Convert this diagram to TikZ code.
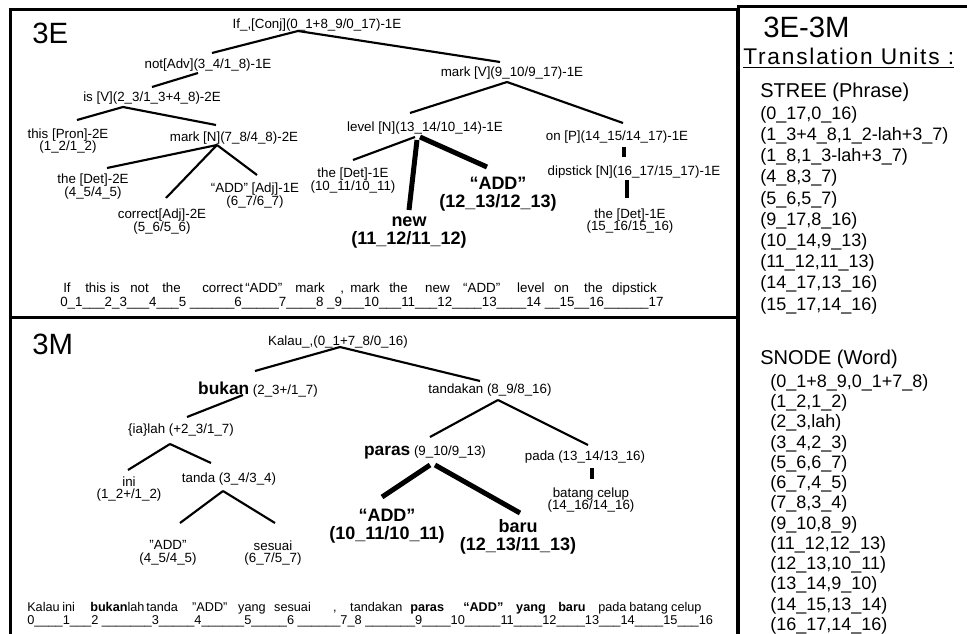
\documentclass[tikz,border=0pt]{standalone}
\usepackage{fontspec}
\setmainfont{Liberation Sans}
\newfontfamily\widefont[LetterSpace=8]{Liberation Sans}
\newdimen\pxu \pxu=0.75pt
\newcommand{\wbox}[2]{\makebox[#1\pxu][l]{#2}}

\tikzstyle{lbl} = [font=\fontsize{10}{9.5}\selectfont, align=center, inner sep=0pt]
\tikzstyle{blbl} = [font=\fontsize{13.5}{13.5}\selectfont\bfseries, align=center, inner sep=0pt]
\tikzstyle{biglbl} = [font=\fontsize{22}{22}\selectfont, inner sep=0pt, anchor=base west]
\tikzstyle{headlbl} = [font=\fontsize{15}{15}\selectfont, inner sep=0pt, anchor=base west]
\tikzstyle{sent} = [font=\fontsize{10}{10}\selectfont, inner sep=0pt, anchor=base west]
\tikzstyle{numline} = [font=\fontsize{10}{10}\selectfont, inner sep=0pt, anchor=base west]
\tikzstyle{unitlist} = [font=\fontsize{13.5}{15.9}\selectfont, align=left, inner sep=0pt, anchor=north west]
\tikzstyle{link} = [line width=1.6pt]
\tikzstyle{boldlink} = [line width=3.75pt]
\tikzstyle{stub} = [line width=2.4pt]
\tikzstyle{frame} = [line width=2.25pt]

\begin{document}
\begin{tikzpicture}[x=0.75pt, y=-0.75pt]
  \useasboundingbox (0,0) rectangle (967,634);
  \clip (0,0) rectangle (967,634);
  % frames
  \draw [frame] (10,10) rectangle (737,318);
  \draw [frame] (10,318) rectangle (737,645);
  \draw [frame] (738,7) rectangle (980,645);
  % 3E tree
  \node (t3e) [biglbl] at (32,44) {3E};
  \node (ifc) [lbl] at (317,25) {If\_,[Conj](0\_1+8\_9/0\_17)-1E};
  \node (notadv) [lbl] at (208,65) {not[Adv](3\_4/1\_8)-1E};
  \node (isv) [lbl] at (152,98) {is [V](2\_3/1\_3+4\_8)-2E};
  \node (thisp) [lbl] at (68,141) {this [Pron]-2E\\(1\_2/1\_2)};
  \node (markn) [lbl] at (234,138) {mark [N](7\_8/4\_8)-2E};
  \node (thed) [lbl] at (93,186.5) {the [Det]-2E\\(4\_5/4\_5)};
  \node (corr) [lbl] at (162,221.5) {correct[Adj]-2E\\(5\_6/5\_6)};
  \node (addadj) [lbl] at (255,195.5) {“ADD” [Adj]-1E\\(6\_7/6\_7)};
  \node (markv) [lbl] at (512,73) {mark [V](9\_10/9\_17)-1E};
  \node (levn) [lbl] at (425,128) {level [N](13\_14/10\_14)-1E};
  \node (onp) [lbl] at (617,137) {on [P](14\_15/14\_17)-1E};
  \node (thed2) [lbl] at (353,180.5) {the [Det]-1E\\(10\_11/10\_11)};
  \node (addb) [blbl] at (498,194) {“ADD”\\(12\_13/12\_13)};
  \node (newb) [blbl] at (409,232.5) {new\\(11\_12/11\_12)};
  \node (dipn) [lbl] at (634,172) {dipstick [N](16\_17/15\_17)-1E};
  \node (thed3) [lbl] at (630,221) {the [Det]-1E\\(15\_16/15\_16)};
  \node (sente) [sent] at (63,292.5) {\wbox{22}{If}\wbox{25}{this}\wbox{20}{is}\wbox{32}{not}\wbox{40}{the}\wbox{43}{correct}\wbox{50}{“ADD”}\wbox{45}{mark}\wbox{10}{,}\wbox{39}{mark}\wbox{36}{the}\wbox{38}{new}\wbox{54}{“ADD”}\wbox{37}{level}\wbox{30}{on}\wbox{28}{the}dipstick};
  \node (nume) [numline] at (60,306.5) {0\_1\_\_\_2\_3\_\_\_4\_\_\_5 \_\_\_\_\_\_6\_\_\_\_\_7\_\_\_\_8 \_9\_\_\_10\_\_\_11\_\_\_12\_\_\_\_13\_\_\_\_14 \_\_15\_\_16\_\_\_\_\_\_17};
  % 3M tree
  \node (t3m) [biglbl] at (32,355) {3M};
  \node (kal) [lbl] at (338,342) {Kalau\_,(0\_1+7\_8/0\_16)};
  \node (buk) [lbl] at (258,390) {{\fontsize{13}{13}\selectfont\bfseries bukan} (2\_3+/1\_7)};
  \node (lah) [lbl] at (181,430) {\{ia\}lah (+2\_3/1\_7)};
  \node (ini) [lbl] at (129,489) {ini\\(1\_2+/1\_2)};
  \node (tanda) [lbl] at (229,479) {tanda (3\_4/3\_4)};
  \node (addq) [lbl] at (168,552.5) {"ADD"\\(4\_5/4\_5)};
  \node (sesuai) [lbl] at (273,553) {sesuai\\(6\_7/5\_7)};
  \node (tandak) [lbl] at (490,390) {tandakan (8\_9/8\_16)};
  \node (paras) [lbl] at (425,452) {{\fontsize{13}{13}\selectfont\bfseries paras} (9\_10/9\_13)};
  \node (pada) [lbl] at (585,457) {pada (13\_14/13\_16)};
  \node (batang) [lbl] at (591,500) {batang celup\\(14\_16/14\_16)};
  \node (addm) [blbl] at (387,526.5) {“ADD”\\(10\_11/10\_11)};
  \node (baru) [blbl] at (518,537) {baru\\(12\_13/11\_13)};
  \node (sentm) [sent, font=\fontsize{9.5}{10}\selectfont] at (27,611.5) {\wbox{35}{Kalau}\wbox{28}{ini}\wbox{56}{\textbf{bukan}lah}\wbox{46}{tanda}\wbox{46}{"ADD"}\wbox{36}{yang}\wbox{59}{sesuai}\wbox{17}{,}\wbox{60}{tandakan}\wbox{53}{\textbf{paras}}\wbox{53}{\textbf{“ADD”}}\wbox{42}{\textbf{yang}}\wbox{40}{\textbf{baru}}\wbox{31}{pada}\wbox{42}{batang}celup};
  \node (numm) [numline, font=\fontsize{9.6}{10}\selectfont] at (27,624) {0\_\_\_\_1\_\_\_2 \_\_\_\_\_\_\_3\_\_\_\_\_4\_\_\_\_\_\_5\_\_\_\_\_6 \_\_\_\_\_\_7\_8 \_\_\_\_\_\_\_9\_\_\_\_10\_\_\_\_\_11\_\_\_\_12\_\_\_\_13\_\_\_14\_\_\_\_15\_\_\_16};
  % translation units
  \node (t3e3m) [biglbl] at (763,38) {3E-3M};
  \node (tunits) [headlbl] at (743,65) {\widefont\fontsize{17}{17}\selectfont\underline{Translation Units :}};
  \node (stree) [headlbl] at (760,98) {STREE (Phrase)};
  \node (streel) [unitlist] at (760,106) {(0\_17,0\_16)\\(1\_3+4\_8,1\_2-lah+3\_7)\\(1\_8,1\_3-lah+3\_7)\\(4\_8,3\_7)\\(5\_6,5\_7)\\(9\_17,8\_16)\\(10\_14,9\_13)\\(11\_12,11\_13)\\(14\_17,13\_16)\\(15\_17,14\_16)};
  \node (snode) [headlbl] at (760,365) {SNODE (Word)};
  \node (snodel) [unitlist, font=\fontsize{13.5}{15.2}\selectfont] at (770,374) {(0\_1+8\_9,0\_1+7\_8)\\(1\_2,1\_2)\\(2\_3,lah)\\(3\_4,2\_3)\\(5\_6,6\_7)\\(6\_7,4\_5)\\(7\_8,3\_4)\\(9\_10,8\_9)\\(11\_12,12\_13)\\(12\_13,10\_11)\\(13\_14,9\_10)\\(14\_15,13\_14)\\(16\_17,14\_16)};
  % connections 3E
  \draw [link] ([shift={(-19,6)}]ifc.center) -- ([shift={(4,-12)}]notadv.center);
  \draw [link] ([shift={(-19,6)}]ifc.center) -- ([shift={(-12,-11)}]markv.center);
  \draw [link] ([shift={(-10,8)}]notadv.center) -- ([shift={(0,-11)}]isv.center);
  \draw [link] ([shift={(-29,9)}]isv.center) -- ([shift={(9,-21)}]thisp.center);
  \draw [link] ([shift={(-29,9)}]isv.center) -- ([shift={(-18,-13)}]markn.center);
  \draw [link] ([shift={(-17,7)}]markn.center) -- ([shift={(14,-18.5)}]thed.center);
  \draw [link] ([shift={(-17,7)}]markn.center) -- ([shift={(4,-23.5)}]corr.center);
  \draw [link] ([shift={(-17,7)}]markn.center) -- ([shift={(2,-20.5)}]addadj.center);
  \draw [link] ([shift={(-5,9)}]markv.center) -- ([shift={(-15,-15)}]levn.center);
  \draw [link] ([shift={(-5,9)}]markv.center) -- ([shift={(6,-14)}]onp.center);
  \draw [link] ([shift={(-10,9)}]levn.center) -- ([shift={(0,-20.5)}]thed2.center);
  \draw [boldlink] ([shift={(-8,12)}]levn.center) -- ([shift={(0,-22.5)}]newb.center);
  \draw [boldlink] ([shift={(-5,9)}]levn.center) -- ([shift={(-11,-27)}]addb.center);
  \draw [stub] ([shift={(7,10)}]onp.center) -- ([shift={(-10,-15)}]dipn.center);
  \draw [stub] ([shift={(-7,8)}]dipn.center) -- ([shift={(-3,-23)}]thed3.center);
  % connections 3M
  \draw [link] ([shift={(2,5)}]kal.center) -- ([shift={(-3,-19)}]buk.center);
  \draw [link] ([shift={(2,5)}]kal.center) -- ([shift={(-10,-9)}]tandak.center);
  \draw [link] ([shift={(-15,5)}]buk.center) -- ([shift={(6,-13)}]lah.center);
  \draw [link] ([shift={(-11,14)}]lah.center) -- ([shift={(-1,-19)}]ini.center);
  \draw [link] ([shift={(-11,14)}]lah.center) -- ([shift={(-18,-16)}]tanda.center);
  \draw [link] ([shift={(-6,12)}]tanda.center) -- ([shift={(12,-29.5)}]addq.center);
  \draw [link] ([shift={(-6,12)}]tanda.center) -- ([shift={(2,-30)}]sesuai.center);
  \draw [link] ([shift={(8,10)}]tandak.center) -- ([shift={(5,-15)}]paras.center);
  \draw [link] ([shift={(8,10)}]tandak.center) -- ([shift={(3,-12)}]pada.center);
  \draw [boldlink] ([shift={(5,13)}]paras.center) -- ([shift={(-5,-29.5)}]addm.center);
  \draw [boldlink] ([shift={(10,13)}]paras.center) -- ([shift={(2,-24)}]baru.center);
  \draw [stub] ([shift={(7,11)}]pada.center) -- ([shift={(1,-21)}]batang.center);
\end{tikzpicture}
\end{document}
